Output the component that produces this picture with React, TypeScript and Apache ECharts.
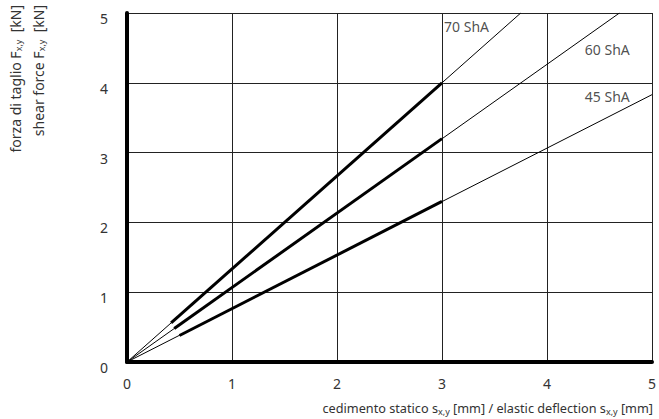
import React, { useEffect, useRef } from "react";
import * as echarts from "echarts";

const xTicks = [0, 1, 2, 3, 4, 5];
const yTicks = [0, 1, 2, 3, 4, 5];
const hardness = ["70 ShA", "60 ShA", "45 ShA"];
// thin (extrapolated) lines: start and end points
const thin70 = [[0, 0], [3.75, 5]];
const thin60 = [[0, 0], [4.69, 5]];
const thin45 = [[0, 0], [5, 3.83]];
// thick (measured range) segments
const thick70 = [[0.42, 0.56], [3, 4.0]];
const thick60 = [[0.45, 0.48], [3, 3.2]];
const thick45 = [[0.5, 0.38], [3, 2.3]];
// label anchor points (data coords)
const labelPoints = [[3.02, 4.81], [4.36, 4.48], [4.36, 3.8]];

const FONT = "Noto Sans";

export default function App() {
  const ref = useRef<HTMLDivElement>(null);
  useEffect(() => {
    if (!ref.current) return;
    const chart = echarts.init(ref.current, null, { renderer: "svg" });
    const thinStyle = { color: "#000", width: 1 };
    const thickStyle = { color: "#000", width: 3 };
    const mkLine = (data: number[][], style: any, z: number) => ({
      type: "line",
      data,
      showSymbol: false,
      symbol: "none",
      lineStyle: style,
      clip: true,
      z,
      silent: true,
    });
    const sub = { fontSize: 9, padding: [7, 0, 0, 0], fontFamily: FONT, color: "#333" };
    chart.setOption({
      animation: false,
      grid: { left: 127, top: 13, width: 525, height: 349, containLabel: false },
      xAxis: {
        type: "value",
        min: 0,
        max: 5,
        interval: 1,
        axisLine: { show: true, lineStyle: { color: "#000", width: 4 } },
        axisTick: { show: false },
        splitLine: { show: true, lineStyle: { color: "#222", width: 1 } },
        axisLabel: {
          margin: 14,
          fontSize: 14,
          fontFamily: FONT,
          color: "#333",
          formatter: (v: number) => (xTicks.includes(v) ? String(v) : ""),
        },
      },
      yAxis: {
        type: "value",
        min: 0,
        max: 5,
        interval: 1,
        axisLine: { show: true, onZero: false, lineStyle: { color: "#000", width: 4 } },
        axisTick: { show: false },
        splitLine: { show: true, lineStyle: { color: "#222", width: 1 } },
        axisLabel: {
          margin: 19,
          fontSize: 14,
          fontFamily: FONT,
          color: "#333",
          verticalAlign: "top",
          lineHeight: 11,
          formatter: (v: number) => (yTicks.includes(v) ? String(v) : ""),
        },
      },
      series: [
        mkLine(thin70, thinStyle, 2),
        mkLine(thin60, thinStyle, 2),
        mkLine(thin45, thinStyle, 2),
        mkLine(thick70, thickStyle, 3),
        mkLine(thick60, thickStyle, 3),
        mkLine(thick45, thickStyle, 3),
        {
          type: "scatter",
          symbolSize: 0,
          silent: true,
          data: labelPoints.map((p, i) => ({ value: p, name: hardness[i] })),
          label: {
            show: true,
            position: "right",
            distance: 0,
            formatter: (p: any) => p.name,
            fontSize: 14,
            fontFamily: FONT,
            color: "#222",
          },
          z: 5,
        },
      ],
      graphic: [
        {
          type: "text",
          x: 15,
          y: 5,
          rotation: Math.PI / 2,
          style: {
            text: "forza di taglio F{sub|x,y}  [kN]",
            fontSize: 14,
            fontFamily: FONT,
            fill: "#333",
            align: "right",
            verticalAlign: "middle",
            rich: { sub },
          },
        },
        {
          type: "text",
          x: 38,
          y: 5,
          rotation: Math.PI / 2,
          style: {
            text: "shear force F{sub|x,y}  [kN]",
            fontSize: 14,
            fontFamily: FONT,
            fill: "#333",
            align: "right",
            verticalAlign: "middle",
            rich: { sub },
          },
        },
        {
          type: "text",
          x: 653,
          y: 408,
          style: {
            text: "cedimento statico s{sub|x,y} [mm] / elastic deflection s{sub|x,y} [mm]",
            fontSize: 12.7,
            fontFamily: FONT,
            fill: "#333",
            align: "right",
            verticalAlign: "middle",
            rich: { sub },
          },
        },
      ],
    });
    return () => chart.dispose();
  }, []);
  return <div ref={ref} style={{ width: 659, height: 419, position: "absolute", left: 0, top: 0 }} />;
}
